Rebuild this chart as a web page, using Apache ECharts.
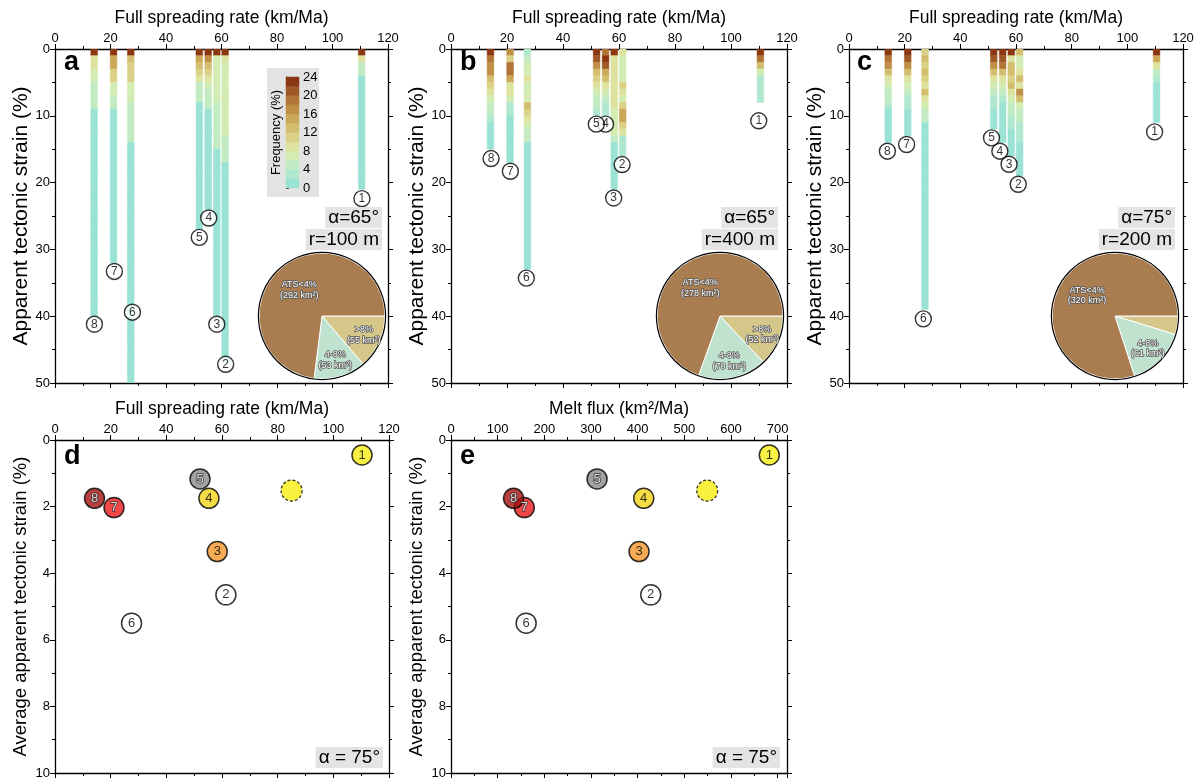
<!DOCTYPE html>
<html>
<head>
<meta charset="utf-8">
<script src="https://cdn.jsdelivr.net/npm/echarts@6/dist/echarts.min.js"></script>
<style>
html, body { margin: 0; padding: 0; background: #fff; }
#chart { width: 1203px; height: 780px; }
</style>
</head>
<body>
<div id="chart"></div>
<script>
// ridges 1..8 : full spreading rate of each bar column (km/Ma)
const ridgeRate = [110.5, 61.3, 58.3, 55.2, 52.0, 27.3, 21.1, 14.1];
const ridgeNames = ['1', '2', '3', '4', '5', '6', '7', '8'];

// frequency (%) of each 1% strain bin, written as runs [frequency, number of bins]
const binsA = [
  [[22, 1], [8, 1], [4, 2], [1, 17]],
  [[22, 1], [8, 1], [6, 11], [4, 4], [1, 30]],
  [[22, 1], [6, 7], [4, 7], [1, 25]],
  [[22, 1], [16, 1], [12, 1], [10, 1], [8, 1], [6, 1], [4, 3], [1, 15]],
  [[22, 1], [14, 1], [12, 1], [10, 1], [8, 1], [4, 3], [1, 19]],
  [[22, 1], [12, 1], [10, 3], [6, 3], [4, 6], [1, 36]],
  [[22, 1], [14, 2], [10, 2], [6, 2], [4, 2], [1, 23]],
  [[22, 1], [9, 2], [6, 2], [4, 4], [1, 31]]
];
const binsB = [
  [[22, 1], [18, 1], [12, 1], [6, 1], [2, 4]],
  [[8, 1], [6, 4], [10, 1], [8, 1], [6, 1], [10, 1], [14, 2], [10, 1], [8, 1], [2, 3]],
  [[22, 1], [8, 8], [6, 4], [4, 1], [1, 7]],
  [[18, 1], [22, 1], [20, 1], [14, 1], [12, 1], [8, 1], [6, 1], [4, 1], [2, 2]],
  [[22, 1], [20, 1], [16, 1], [12, 1], [10, 1], [8, 1], [6, 1], [4, 2], [2, 1]],
  [[2, 1], [4, 1], [6, 2], [8, 1], [6, 3], [12, 1], [10, 1], [8, 1], [6, 1], [4, 2], [1, 19]],
  [[16, 1], [10, 1], [18, 2], [14, 1], [8, 2], [6, 1], [2, 2], [1, 7]],
  [[22, 1], [18, 1], [16, 2], [12, 1], [10, 1], [8, 1], [6, 1], [4, 2], [2, 1], [1, 4]]
];
const binsC = [
  [[22, 1], [14, 1], [8, 1], [4, 1], [2, 1], [1, 6]],
  [[12, 1], [6, 2], [8, 1], [12, 1], [8, 1], [16, 1], [12, 1], [6, 1], [4, 2], [2, 3], [1, 5]],
  [[22, 1], [8, 1], [12, 2], [10, 1], [12, 1], [8, 1], [6, 1], [4, 2], [2, 2], [1, 4]],
  [[22, 1], [20, 1], [18, 1], [12, 1], [8, 1], [6, 1], [4, 1], [2, 1], [1, 6]],
  [[22, 1], [20, 1], [16, 1], [12, 1], [8, 1], [6, 1], [4, 1], [2, 2], [1, 3]],
  [[10, 1], [12, 1], [10, 1], [12, 1], [10, 1], [8, 1], [12, 1], [8, 1], [6, 1], [4, 2], [1, 28]],
  [[22, 1], [20, 1], [16, 1], [12, 1], [8, 1], [6, 1], [4, 1], [2, 2], [1, 4]],
  [[22, 1], [18, 1], [16, 1], [12, 1], [8, 1], [6, 1], [4, 2], [2, 1], [1, 5]]
];

// numbered circle positions at the foot of each bar
const labelAx = [110.6, 61.5, 58.3, 55.4, 52.0, 27.9, 21.4, 14.2];
const labelAy = [22.4, 47.2, 41.2, 25.3, 28.2, 39.4, 33.3, 41.2];
const labelBx = [109.9, 61.1, 58.1, 55.2, 51.9, 26.9, 21.2, 14.3];
const labelBy = [10.75, 17.3, 22.3, 11.25, 11.25, 34.3, 18.3, 16.4];
const labelCx = [109.8, 60.8, 57.5, 54.2, 51.2, 26.7, 20.7, 13.8];
const labelCy = [12.4, 20.25, 17.25, 15.3, 13.3, 40.4, 14.3, 15.3];

// pies: area (km2) per strain class
const pieNames = ['>8%', '4-8%', 'ATS<4%'];
const pieA = [55, 53, 292];
const pieB = [52, 70, 278];
const pieC = [19, 61, 320];

// panels d and e
const avgRate = [110.3, 61.4, 58.3, 55.3, 52.1, 27.5, 21.2, 14.2];
const meltFlux = [682, 428, 403, 413, 313, 161, 157, 134];
const avgStrain = [0.45, 4.65, 3.35, 1.75, 1.17, 5.5, 2.03, 1.75];
const extraRate = 85, extraFlux = 549, extraStrain = 1.52;

// colour scale of frequency
const freqTicks = [0, 2, 4, 6, 8, 10, 12, 14, 16, 18, 20, 22, 24];
const freqColors = ['#9ae2d4', '#b0e7cf', '#c3ebc3', '#d3ecb3', '#dde39e', '#dad186',
  '#d3bd6e', '#caa858', '#c08f46', '#b27436', '#a05826', '#8b3812'];
const pointColors = ['#f8ee14', '#ffffff', '#f2962a', '#f4d41a', '#8a8a8a', '#ffffff', '#ec1a1a', '#a41010'];
const pieColors = ['#d5c68a', '#bfe3cf', '#a97d4f'];

const FONT = 'Liberation Sans, Arial, sans-serif';
const barWidth = 2.4;

const colorFor = (f) => freqColors[Math.min(freqColors.length - 1, Math.floor(f / 2))];

const expandBins = (bins) => {
  const out = [];
  bins.forEach((runs, i) => {
    let y = 0;
    runs.forEach(([f, n]) => {
      for (let k = 0; k < n; k++) {
        out.push([ridgeRate[i], y, y + 1, f]);
        y += 1;
      }
    });
  });
  return out;
};

const rectRenderer = (w) => (params, api) => {
  const x = api.value(0);
  const a = api.coord([x - w / 2, api.value(1)]);
  const b = api.coord([x + w / 2, api.value(2)]);
  const fill = colorFor(api.value(3));
  return {
    type: 'rect',
    shape: {
      x: Math.min(a[0], b[0]), y: Math.min(a[1], b[1]),
      width: Math.abs(b[0] - a[0]), height: Math.abs(b[1] - a[1])
    },
    style: { fill, stroke: fill, lineWidth: 0.5 }
  };
};

const grids = [
  { left: 55, top: 49, width: 333, height: 334 },
  { left: 451, top: 49, width: 336, height: 334 },
  { left: 849, top: 49, width: 334, height: 334 },
  { left: 55, top: 440, width: 334, height: 333 },
  { left: 451, top: 440, width: 336, height: 333 },
  { left: 286, top: 77, width: 13, height: 111 }
];

const lineStyle = { color: '#000', width: 1.3 };
const tickStyle = { color: '#000', width: 1 };
const xAxes = [];
const yAxes = [];

const addPanelAxes = (gi, xMax, xInt, yMax, yInt, xName, yName, yNameSize, yNameGap) => {
  const common = {
    gridIndex: gi, type: 'value', min: 0,
    axisLine: { show: true, onZero: false, lineStyle },
    axisTick: { show: true, length: 5, lineStyle: tickStyle },
    minorTick: { show: true, splitNumber: 2, length: 3, lineStyle: tickStyle },
    splitLine: { show: false }
  };
  xAxes.push({
    ...common, position: 'top', max: xMax, interval: xInt,
    name: xName, nameLocation: 'middle', nameGap: 22,
    nameTextStyle: { fontSize: 17.5, color: '#000', fontFamily: FONT },
    axisLabel: { fontSize: 13, color: '#000', margin: 4, fontFamily: FONT, showMaxLabel: xMax % xInt === 0 }
  });
  xAxes.push({ ...common, position: 'bottom', max: xMax, interval: xInt, axisLabel: { show: false } });
  yAxes.push({
    ...common, position: 'left', inverse: true, max: yMax, interval: yInt,
    name: yName, nameLocation: 'middle', nameGap: yNameGap,
    nameTextStyle: { fontSize: yNameSize, color: '#000', fontFamily: FONT },
    axisLabel: { fontSize: 13, color: '#000', margin: 5, fontFamily: FONT }
  });
  yAxes.push({ ...common, position: 'right', inverse: true, max: yMax, interval: yInt, axisLabel: { show: false } });
};

addPanelAxes(0, 120, 20, 50, 10, 'Full spreading rate (km/Ma)', 'Apparent tectonic strain (%)', 21, 23);
addPanelAxes(1, 120, 20, 50, 10, 'Full spreading rate (km/Ma)', 'Apparent tectonic strain (%)', 21, 23);
addPanelAxes(2, 120, 20, 50, 10, 'Full spreading rate (km/Ma)', 'Apparent tectonic strain (%)', 21, 23);
addPanelAxes(3, 120, 20, 10, 2, 'Full spreading rate (km/Ma)', 'Average apparent tectonic strain (%)', 18.5, 25);
addPanelAxes(4, 720, 100, 10, 2, 'Melt flux (km²/Ma)', 'Average apparent tectonic strain (%)', 18.5, 25);

// colour bar axes
xAxes.push({ gridIndex: 5, type: 'value', min: 0, max: 1, show: false });
yAxes.push({
  gridIndex: 5, type: 'value', position: 'right', min: 0, max: 24, interval: 4,
  axisLine: { show: true, lineStyle: { color: '#444', width: 0.8 } }, splitLine: { show: false },
  axisTick: { show: true, length: 3, lineStyle: { color: '#333' } },
  axisLabel: { fontSize: 13, color: '#000', margin: 4, fontFamily: FONT }
});
yAxes.push({
  gridIndex: 5, type: 'value', position: 'left', min: 0, max: 24,
  axisLine: { show: true, lineStyle: { color: '#444', width: 0.8 } }, axisTick: { show: false },
  axisLabel: { show: false }, splitLine: { show: false },
  name: 'Frequency (%)', nameLocation: 'middle', nameGap: 3,
  nameTextStyle: { fontSize: 13, color: '#000', fontFamily: FONT }
});

const series = [];

const pieLabel = {
  position: 'inside', fontSize: 9, lineHeight: 10.5, color: '#fff',
  textBorderColor: '#555', textBorderWidth: 1.5, fontFamily: FONT,
  formatter: (d) => d.name + '\n(' + d.value + ' km²)'
};

const addStrainPanel = (p, bins, lx, ly, pieVals, pieCenter, showSmall) => {
  series.push({
    type: 'custom', xAxisIndex: 2 * p, yAxisIndex: 2 * p,
    renderItem: rectRenderer(barWidth), data: expandBins(bins), clip: true,
    encode: { x: 0, y: [1, 2] }, silent: true, z: 2
  });
  series.push({
    type: 'scatter', xAxisIndex: 2 * p, yAxisIndex: 2 * p, z: 4, silent: true,
    symbol: 'circle', symbolSize: 16,
    itemStyle: { color: '#fff', borderColor: '#000', borderWidth: 1.4 },
    label: { show: true, position: 'inside', formatter: (d) => d.name, fontSize: 12, color: '#000', fontFamily: FONT },
    data: lx.map((x, i) => ({ name: ridgeNames[i], value: [x, ly[i]] }))
  });
  // filled pie, label of the large slice only
  series.push({
    type: 'pie', center: pieCenter, radius: [0, 63], startAngle: 0, clockwise: true, z: 3,
    silent: true, animation: false,
    itemStyle: { borderColor: '#fff', borderWidth: 1 },
    label: { show: true, ...pieLabel },
    labelLine: { show: false },
    data: pieVals.map((v, i) => ({
      value: v, name: pieNames[i], itemStyle: { color: pieColors[i] },
      label: { show: i === 2 }
    }))
  });
  // labels of the small slices, placed further out
  series.push({
    type: 'pie', center: pieCenter, radius: [24, 62], startAngle: 0, clockwise: true, z: 4,
    silent: true, animation: false,
    itemStyle: { color: 'rgba(0,0,0,0)', borderWidth: 0 },
    label: { show: true, ...pieLabel },
    labelLine: { show: false },
    data: pieVals.map((v, i) => ({
      value: v, name: pieNames[i],
      label: { show: i === 1 || (i === 0 && showSmall) }
    }))
  });
  // black outline
  series.push({
    type: 'pie', center: pieCenter, radius: [63, 64.2], z: 3, silent: true, animation: false,
    label: { show: false }, labelLine: { show: false },
    data: [{ value: 1, itemStyle: { color: '#000' } }]
  });
};

addStrainPanel(0, binsA, labelAx, labelAy, pieA, [322, 316], true);
addStrainPanel(1, binsB, labelBx, labelBy, pieB, [720, 316], true);
addStrainPanel(2, binsC, labelCx, labelCy, pieC, [1115, 316], false);

const darkLabel = [4, 6, 7];
const addAveragePanel = (p, xs, extraX) => {
  series.push({
    type: 'scatter', xAxisIndex: 2 * p, yAxisIndex: 2 * p, z: 4, silent: true,
    symbol: 'circle', symbolSize: 21,
    data: [{
      value: [extraX, extraStrain],
      itemStyle: { color: '#f8ee10', borderColor: '#000', borderWidth: 1.3, borderType: [3, 2] },
      label: { show: false }
    }]
  });
  series.push({
    type: 'scatter', xAxisIndex: 2 * p, yAxisIndex: 2 * p, z: 5, silent: true,
    symbol: 'circle', symbolSize: 20,
    data: xs.map((x, i) => ({
      name: ridgeNames[i], value: [x, avgStrain[i]],
      itemStyle: { color: pointColors[i], borderColor: '#000', borderWidth: 1.5 },
      label: darkLabel.includes(i)
        ? { color: '#fff', textBorderColor: '#222', textBorderWidth: 1.6 }
        : { color: '#000' }
    })),
    label: { show: true, position: 'inside', formatter: (d) => d.name, fontSize: 13, fontFamily: FONT }
  });
};
addAveragePanel(3, avgRate, extraRate);
addAveragePanel(4, meltFlux, extraFlux);

// colour bar
series.push({
  type: 'custom', xAxisIndex: 10, yAxisIndex: 10, silent: true, z: 3,
  renderItem: (params, api) => {
    const a = api.coord([0, api.value(0)]);
    const b = api.coord([1, api.value(1)]);
    const fill = freqColors[params.dataIndex];
    return {
      type: 'rect',
      shape: { x: a[0], y: Math.min(a[1], b[1]), width: b[0] - a[0], height: Math.abs(b[1] - a[1]) },
      style: { fill, stroke: fill, lineWidth: 0.5 }
    };
  },
  encode: { y: [0, 1] },
  data: freqColors.map((c, i) => [freqTicks[i], freqTicks[i + 1]])
});

const boxText = (text, right, top) => ({
  text, right, top, padding: [1, 3], backgroundColor: '#e4e4e4',
  textStyle: { fontSize: 19, fontWeight: 'normal', color: '#000', fontFamily: FONT }
});
const letter = (text, left, top) => ({
  text, left, top, padding: 0,
  textStyle: { fontSize: 27, fontWeight: 'bold', color: '#000', fontFamily: FONT }
});

const option = {
  animation: false,
  backgroundColor: '#fff',
  textStyle: { fontFamily: FONT },
  title: [
    letter('a', 64, 49), letter('b', 460, 49), letter('c', 857, 49),
    letter('d', 64, 443), letter('e', 460, 443),
    boxText('α=65°', 821, 207), boxText('r=100 m', 821, 229),
    boxText('α=65°', 425, 207), boxText('r=400 m', 425, 229),
    boxText('α=75°', 28, 207), boxText('r=200 m', 28, 229),
    boxText('α = 75°', 820, 747), boxText('α = 75°', 423, 747)
  ],
  graphic: [
    { type: 'rect', left: 267, top: 68, z: 0, shape: { width: 52, height: 129 }, style: { fill: '#e3e3e3' } }
  ],
  grid: grids,
  xAxis: xAxes,
  yAxis: yAxes,
  series
};

const chart = echarts.init(document.getElementById('chart'), null, { renderer: 'canvas' });
chart.setOption(option);
</script>
</body>
</html>
